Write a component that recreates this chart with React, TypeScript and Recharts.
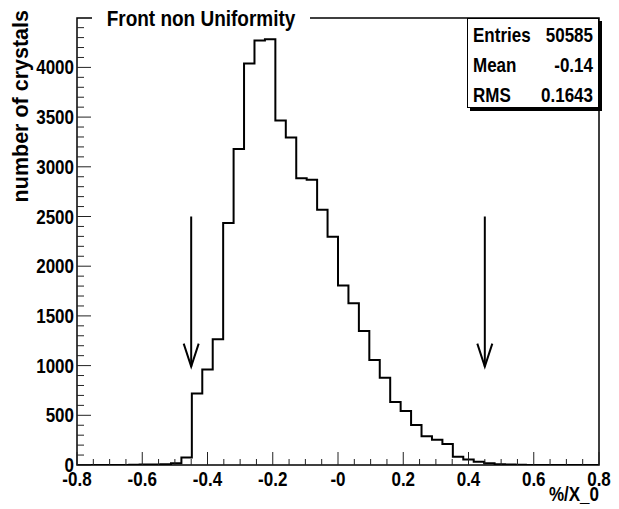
import { ComposedChart, Line, XAxis, YAxis, ReferenceArea, ReferenceLine } from 'recharts'

// histogram: 50 bins from -0.8 to 0.8
const X_MIN = -0.8
const X_MAX = 0.8
const BIN_WIDTH = 0.032
const Y_MAX = 4497

const COUNTS = [
  0, 0, 0, 0, 0, 2, 4, 6, 8, 18,
  75, 720, 960, 1265, 2435, 3180, 4040, 4270, 4283, 3465,
  3295, 2885, 2870, 2568, 2296, 1806, 1628, 1349, 1057, 879,
  634, 544, 403, 289, 255, 211, 84, 55, 33, 17,
  8, 5, 3, 1, 0, 0, 0, 0, 0, 0,
]

const X_LABELS = [-0.8, -0.6, -0.4, -0.2, 0, 0.2, 0.4, 0.6, 0.8]
const Y_LABELS = [0, 500, 1000, 1500, 2000, 2500, 3000, 3500, 4000]

const ARROW_X = [-0.45, 0.45]
const ARROW_TOP = 2500
const ARROW_TIP = 990

const STATS = [
  { name: 'Entries', value: '50585' },
  { name: 'Mean', value: '-0.14' },
  { name: 'RMS', value: '0.1643' },
]

const FONT = '"Liberation Sans", Arial, Helvetica, sans-serif'

const histData = [
  ...COUNTS.map((c, i) => ({ x: +(X_MIN + i * BIN_WIDTH).toFixed(3), y: c })),
  { x: X_MAX, y: COUNTS[COUNTS.length - 1] },
]

// minor ticks every 0.05 on x, every 100 on y
const xTicks = Array.from({ length: 33 }, (_, i) => +(X_MIN + i * 0.05).toFixed(2))
const yTicks = Array.from({ length: 45 }, (_, i) => i * 100)

const isMajorX = (v: number) => X_LABELS.some((l) => Math.abs(l - v) < 1e-6)
const isMajorY = (v: number) => Y_LABELS.includes(v)

// ROOT's helvetica looks a bit taller than Liberation, stretch it vertically
function T({ x, y, anchor = 'start', size = 17, children }: any) {
  return (
    <text
      transform={`translate(${x},${y}) scale(1,1.17)`}
      textAnchor={anchor}
      fontFamily={FONT}
      fontWeight="bold"
      fontSize={size}
      fill="#000"
    >
      {children}
    </text>
  )
}

function XTick({ x, y, payload }: any) {
  const v = payload.value
  const major = isMajorX(v)
  return (
    <g>
      <line x1={x} x2={x} y1={y} y2={y - (major ? 13 : 6)} stroke="#222" strokeWidth={1} />
      {major && (
        <T x={x} y={y + 21} anchor="middle">
          {v === 0 ? '-0' : v.toFixed(1)}
        </T>
      )}
    </g>
  )
}

function YTick({ x, y, payload }: any) {
  const v = payload.value
  const major = isMajorY(v)
  return (
    <g>
      <line x1={x} x2={x + (major ? 14 : 7)} y1={y} y2={y} stroke="#222" strokeWidth={1} />
      {major && (
        <T x={x - 3} y={y + 7} anchor="end">
          {v}
        </T>
      )}
    </g>
  )
}

function Arrow({ x1, y1, x2, y2 }: any) {
  return (
    <g>
      <line x1={x1} y1={y1} x2={x2} y2={y2} stroke="#000" strokeWidth={2} />
      <polyline
        points={`${x2 - 7.5},${y2 - 23} ${x2},${y2} ${x2 + 7.5},${y2 - 23}`}
        fill="none"
        stroke="#000"
        strokeWidth={2}
      />
    </g>
  )
}

export default function App() {
  return (
    <div style={{ position: 'absolute', left: 0, top: 0, width: 619, height: 509, background: '#fff' }}>
      <ComposedChart width={619} height={509} data={histData} margin={{ top: 18, right: 20, bottom: 0, left: 0 }}>
        <XAxis
          dataKey="x"
          type="number"
          domain={[X_MIN, X_MAX]}
          ticks={xTicks}
          interval={0}
          height={44}
          axisLine={false}
          tickLine={false}
          tickSize={0}
          tickMargin={0}
          tick={<XTick />}
          allowDataOverflow
        />
        <YAxis
          type="number"
          domain={[0, Y_MAX]}
          ticks={yTicks}
          interval={0}
          width={77}
          axisLine={false}
          tickLine={false}
          tickSize={0}
          tickMargin={0}
          tick={<YTick />}
          allowDataOverflow
        />
        <ReferenceArea x1={X_MIN} x2={X_MAX} y1={0} y2={Y_MAX} fill="none" stroke="#000" strokeWidth={1.5} fillOpacity={0} />
        <Line
          dataKey="y"
          type="stepAfter"
          stroke="#000"
          strokeWidth={2}
          dot={false}
          isAnimationActive={false}
        />
        {ARROW_X.map((ax) => (
          <ReferenceLine
            key={ax}
            segment={[{ x: ax, y: ARROW_TOP }, { x: ax, y: ARROW_TIP }]}
            shape={<Arrow />}
          />
        ))}
      </ComposedChart>

      <svg width={619} height={509} style={{ position: 'absolute', left: 0, top: 0, pointerEvents: 'none' }}>
        {/* title box over the frame */}
        <rect x={92} y={6} width={218} height={24} fill="#fff" />
        <T x={201} y={26} anchor="middle" size={19}>
          Front non Uniformity
        </T>

        {/* stats box */}
        <rect x={470} y={21} width={132} height={90} fill="#000" />
        <rect x={467.5} y={18.5} width={131} height={89} fill="#fff" stroke="#000" strokeWidth={1} />
        {STATS.map((s, i) => (
          <g key={s.name}>
            <T x={473} y={42 + i * 30}>{s.name}</T>
            <T x={593} y={42 + i * 30} anchor="end">{s.value}</T>
          </g>
        ))}

        {/* axis titles */}
        <text
          transform="translate(28,10) rotate(-90)"
          textAnchor="end"
          fontFamily={FONT}
          fontWeight="bold"
          fontSize={21.5}
          fill="#000"
        >
          number of crystals
        </text>
        <T x={599} y={501} anchor="end">
          %/X_0
        </T>
      </svg>
    </div>
  )
}
